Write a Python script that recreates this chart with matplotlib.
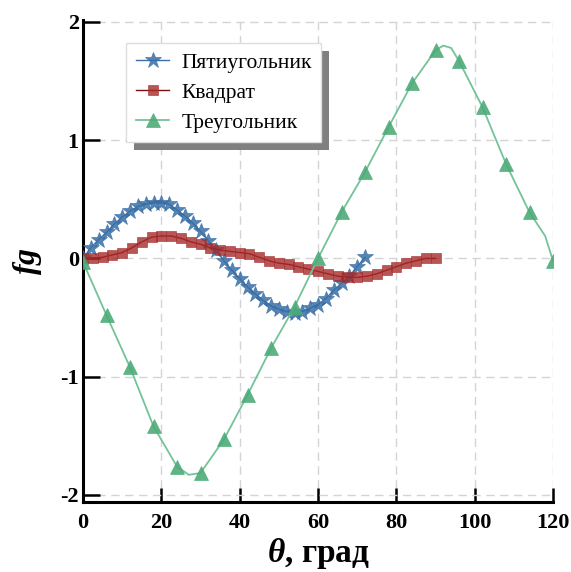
import matplotlib
matplotlib.use("Agg")
import matplotlib.pyplot as plt
from matplotlib.patches import Rectangle

plt.rcParams['font.family'] = ['Liberation Serif', 'DejaVu Serif']
plt.rcParams['mathtext.fontset'] = 'custom'
plt.rcParams['mathtext.rm'] = 'Liberation Serif:bold'
plt.rcParams['mathtext.it'] = 'Liberation Serif:italic:bold'
plt.rcParams['mathtext.bf'] = 'Liberation Serif:bold'

# ---- data ----
penta_x = [0, 2, 4, 6, 8, 10, 12, 14, 16, 18, 20, 22, 24, 26, 28, 30, 32, 34, 36,
           38, 40, 42, 44, 46, 48, 50, 52, 54, 56, 58, 60, 62, 64, 66, 68, 70, 72]
penta_y = [0.00, 0.09, 0.16, 0.22, 0.29, 0.35, 0.40, 0.44, 0.46, 0.47, 0.47, 0.46,
           0.41, 0.36, 0.30, 0.23, 0.15, 0.07, -0.02, -0.10, -0.17, -0.24, -0.30,
           -0.355, -0.40, -0.43, -0.45, -0.46, -0.45, -0.42, -0.39, -0.34, -0.27,
           -0.21, -0.15, -0.07, 0.01]

square_x = [0, 2.5, 5, 7.5, 10, 12.5, 15, 17.5, 20, 22.5, 25, 27.5, 30, 32.5, 35,
            37.5, 40, 42.5, 45, 47.5, 50, 52.5, 55, 57.5, 60, 62.5, 65, 67.5, 70,
            72.5, 75, 77.5, 80, 82.5, 85, 87.5, 90]
square_y = [0.00, 0.00, 0.01, 0.03, 0.05, 0.09, 0.14, 0.18, 0.19, 0.19, 0.17, 0.14,
            0.12, 0.09, 0.07, 0.06, 0.05, 0.04, 0.01, -0.02, -0.04, -0.05, -0.07,
            -0.09, -0.11, -0.13, -0.15, -0.16, -0.16, -0.15, -0.13, -0.10, -0.07,
            -0.04, -0.02, 0.00, 0.00]

tri_x = [0, 6, 12, 18, 24, 27, 30, 36, 42, 48, 54, 60, 66, 72, 78, 84, 90, 92, 94,
         96, 102, 108, 114, 118, 120]
tri_y = [-0.03, -0.48, -0.92, -1.42, -1.76, -1.83, -1.815, -1.53, -1.155, -0.76,
         -0.41, 0.00, 0.39, 0.73, 1.11, 1.48, 1.76, 1.80, 1.78, 1.67, 1.28, 0.80,
         0.39, 0.19, -0.02]
tri_marker_x = [0, 6, 12, 18, 24, 30, 36, 42, 48, 54, 60, 66, 72, 78, 84, 90, 96,
                102, 108, 114, 120]

labels = ['Пятиугольник', 'Квадрат', 'Треугольник']
x_ticks = [0, 20, 40, 60, 80, 100, 120]
y_ticks = [-2, -1, 0, 1, 2]

fig = plt.figure(figsize=(5.71, 5.72), dpi=100)
ax = fig.add_axes([83 / 571, 1 - 502 / 572, (553 - 83) / 571, (502 - 19.6) / 572])

ax.plot(penta_x, penta_y, color='#3a6ea5', lw=1.0, marker='*', ms=12,
        mfc=(0.22, 0.43, 0.65, 0.85), mec=(0.22, 0.43, 0.65, 0.85), mew=0.5,
        label=labels[0], zorder=3)
ax.plot(square_x, square_y, color='#7a1010', lw=1.0, marker='s', ms=7,
        mfc=(0.65, 0.17, 0.17, 0.8), mec=(0.65, 0.17, 0.17, 0.8), mew=0.5,
        label=labels[1], zorder=3)
tri_every = [i for i, v in enumerate(tri_x) if v in tri_marker_x]
ax.plot(tri_x, tri_y, color='#74c398', lw=1.3, marker='^', ms=9.5,
        markevery=tri_every,
        mfc=(0.30, 0.67, 0.47, 0.9), mec=(0.30, 0.67, 0.47, 0.9), mew=0.5,
        label=labels[2], zorder=4)

ax.set_xlim(0, 120)
ax.set_ylim(-2.06, 2.02)
ax.set_xticks(x_ticks)
ax.set_yticks(y_ticks)
ax.set_xticklabels([str(t) for t in x_ticks])
ax.set_yticklabels([str(t) for t in y_ticks])

ax.grid(True, color='#d4d4d4', linestyle=(0, (6, 4)), lw=1.0, zorder=0)
for s in ['top', 'right']:
    ax.spines[s].set_visible(False)
for s in ['left', 'bottom']:
    ax.spines[s].set_linewidth(2.2)
    ax.spines[s].set_color('black')

ax.tick_params(axis='x', direction='in', length=10, width=1.8, pad=8,
               labelsize=16)
ax.tick_params(axis='y', direction='in', length=12, width=1.8, pad=3,
               labelsize=16)
for lab in ax.get_xticklabels() + ax.get_yticklabels():
    lab.set_fontweight('bold')

ax.set_xlabel(r'$\theta$, град', fontsize=24, fontweight='bold', labelpad=2)
ax.set_ylabel(r'$fg$', fontsize=23, labelpad=12)

leg = ax.legend(loc='upper left', bbox_to_anchor=(0.092, 0.951),
                borderaxespad=0, fontsize=15.5, frameon=True, fancybox=False,
                edgecolor='#dddddd', framealpha=1, handlelength=1.55,
                handletextpad=0.55, labelspacing=0.45, borderpad=0.45)
leg.get_frame().set_linewidth(1.0)
leg.set_zorder(6)

fig.canvas.draw()
bb = leg.get_window_extent()
off = 8
shadow = Rectangle((bb.x0 + off, bb.y0 - off), bb.width, bb.height,
                   transform=None, facecolor='#808080', edgecolor='none',
                   zorder=5.5, clip_on=False)
ax.add_artist(shadow)

fig.savefig('out.png', dpi=100)
